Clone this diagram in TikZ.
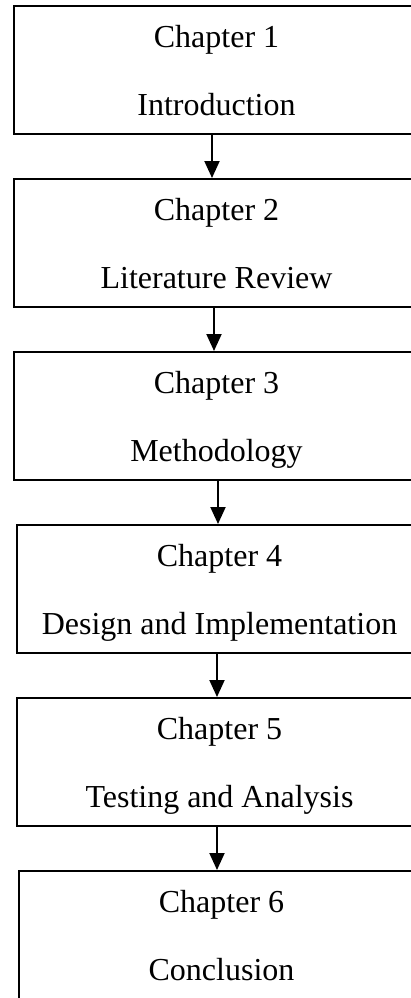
\documentclass[tikz,border=0pt]{standalone}
\usepackage{fontspec}
\setmainfont{Liberation Serif}
\usetikzlibrary{arrows.meta, positioning}
\tikzstyle{chap} = [rectangle, minimum width=202.5pt, minimum height=64pt, inner sep=0pt, align=center, draw=black, line width=1pt, font=\fontsize{16}{34}\selectfont, text height=49.5pt, text depth=4.5pt]
\tikzstyle{arrow} = [line width=1pt, -{Triangle[width=7.5pt,length=8.5pt]}]

\begin{document}
\begin{tikzpicture}[node distance=86.5pt]
      \useasboundingbox (0,0) rectangle (205.5pt,-499pt);
      \clip (0,0) rectangle (205.5pt,-499pt);
      \node (intro) [chap] at (108.25pt,-35pt) {Chapter 1\\Introduction};
      \node (litrev) [chap, below of=intro] {Chapter 2\\Literature Review};
      \node (method) [chap, below of=litrev] {Chapter 3\\Methodology};
      \node (design) [chap, below of=method, xshift=1.5pt] {Chapter 4\\Design and Implementation};
      \node (testing) [chap, below of=design] {Chapter 5\\Testing and Analysis};
      \node (concl) [chap, below of=testing, xshift=1pt] {Chapter 6\\Conclusion};

      \draw [arrow] ([xshift=-2.25pt]intro.south) -- ([xshift=-2.25pt]intro.south |- litrev.north);
      \draw [arrow] ([xshift=-1.25pt]litrev.south) -- ([xshift=-1.25pt]litrev.south |- method.north);
      \draw [arrow] ([xshift=0.75pt]method.south) -- ([xshift=0.75pt]method.south |- design.north);
      \draw [arrow] ([xshift=-1.25pt]design.south) -- ([xshift=-1.25pt]design.south |- testing.north);
      \draw [arrow] ([xshift=-1.25pt]testing.south) -- ([xshift=-1.25pt]testing.south |- concl.north);
    \end{tikzpicture}
\end{document}
